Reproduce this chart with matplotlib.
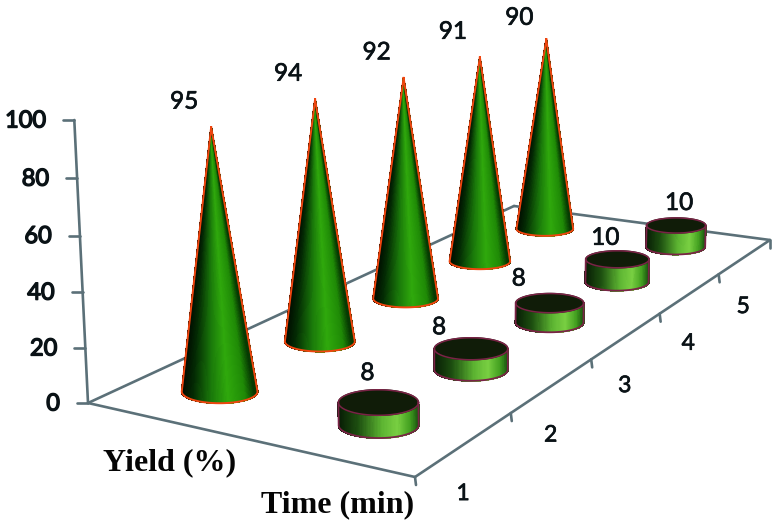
import numpy as np
import matplotlib
matplotlib.use("Agg")
import matplotlib.pyplot as plt
import matplotlib.patheffects as pe
from matplotlib.collections import PolyCollection
from matplotlib.colors import LinearSegmentedColormap

# Data
times = ["1", "2", "3", "4", "5"]
yields = [95, 94, 92, 91, 90]
durations = [8, 8, 8, 10, 10]
yticks = [0, 20, 40, 60, 80, 100]

# camera, in screen pixels: corners of the floor and the vertical vanishing point
A, B, C, D = (88, 403), (415, 477), (770, 240), (514, 206)
VP = (480, 8500)
AXIS_TOP_Y = 120
ROW_YIELD, ROW_TIME = 0.25, 0.75

# the labels above the marks do not sit at a regular distance in the original
cone_label_dy = [-25, -25, -25, -25, -21]
disc_label_dx = [-11, -32, -31, -12, 3]
disc_label_dy = [-29, -21, -24, -21, -22]


def floor_matrix(pts):
    rows, rhs = [], []
    for (u, v), (x, y) in zip([(0, 0), (0, 1), (1, 1), (1, 0)], pts):
        rows.append([u, v, 1, 0, 0, 0, -u * x, -v * x])
        rows.append([0, 0, 0, u, v, 1, -u * y, -v * y])
        rhs += [x, y]
    h = np.linalg.solve(np.array(rows, float), np.array(rhs, float))
    return np.append(h, 1).reshape(3, 3)


H = floor_matrix([A, B, C, D])
K = (A[1] - AXIS_TOP_Y) / 100 / (AXIS_TOP_Y - VP[1])
Q = K * np.array([VP[0], VP[1], 1.0])


def proj(s, t, z=0):
    p = H @ np.array([s, t, 1.0]) + z * Q
    return p[0] / p[2], p[1] / p[2]


def depth(s, t):
    return (H @ np.array([s, t, 1.0]))[2]


def radii(s, t):
    x, y = proj(s, t)
    rx = 38.5 / depth(s, t)
    ratio = 0.25 + 0.06 * (y - 230) / 170
    return rx, rx * ratio


cone_cmap = LinearSegmentedColormap.from_list("cone", [
    (0, "#000a00"), (0.15, "#032a03"), (0.4, "#1a7a0a"),
    (0.62, "#2fa80c"), (0.85, "#1f8a06"), (0.97, "#063a02"), (1, "#063a02")])
side_cmap = LinearSegmentedColormap.from_list("side", [
    (0, "#061a04"), (0.25, "#1d4f10"), (0.55, "#5db532"),
    (0.74, "#79cf42"), (0.9, "#43a020"), (1, "#1c5a10")])

fig = plt.figure(figsize=(7.74, 5.24), dpi=100)
ax = fig.add_axes([0, 0, 1, 1])
ax.set_xlim(0, 774)
ax.set_ylim(524, 0)
ax.axis("off")

AXC = "#5b7078"
TXT = "#0a1216"
LW = 1.9
thick = [pe.withStroke(linewidth=0.5, foreground=TXT)]
thicker = [pe.withStroke(linewidth=1.0, foreground=TXT)]


def line(p, q, z=6):
    ax.plot([p[0], q[0]], [p[1], q[1]], color=AXC, lw=LW, solid_capstyle="round", zorder=z)


# walls and floor
line(D, A, 1)
line(D, C, 1)
line(A, B)
line(B, C)
line(A, proj(0, 0, 100))

for v in yticks:
    x, y = proj(0, 0, v)
    line((x, y), (x - 11, y))
    ax.text(x - 28, y + 1, str(v), ha="right", va="center", fontsize=17,
            family="Lato", color=TXT, path_effects=thicker)

for i, lab in enumerate(times):
    x, y = proj(i / 5, 1)
    line((x, y), (x + 1, y + 8))
    x, y = proj((i + 0.5) / 5, 1)
    ax.text(x - 2, y + 50, lab, ha="center", va="center", fontsize=16.5,
            family="Lato", color=TXT, path_effects=thick)
line(C, (C[0], C[1] + 8))

ax.text(170, 463, "Yield (%)", ha="center", va="center", fontsize=23,
        fontweight="bold", family="Liberation Serif", color="#050505")
ax.text(338, 505, "Time (min)", ha="center", va="center", fontsize=23,
        fontweight="bold", family="Liberation Serif", color="#050505")

theta = np.linspace(np.pi, 2 * np.pi, 90)


def draw_cone(s, t, v, z):
    cx, cy = proj(s, t)
    ax_, ay_ = proj(s, t, v)
    rx, ry = radii(s, t)
    xs = cx + rx * np.cos(theta)
    ys = cy - ry * np.sin(theta)
    polys, cols = [], []
    for j in range(len(theta) - 1):
        polys.append([(ax_, ay_), (xs[j], ys[j]), (xs[j + 1], ys[j + 1])])
        cols.append(cone_cmap((xs[j] - cx + rx) / (2 * rx)))
    ax.add_collection(PolyCollection(polys, facecolors=cols, edgecolors=cols, linewidths=0.8,
                                     antialiaseds=False, zorder=z))
    ax.plot(np.r_[ax_, xs, ax_], np.r_[ay_, ys, ay_], color="#f0450f", lw=1.4,
            solid_joinstyle="round", zorder=z + 0.1)


def draw_disc(s, t, v, z):
    cx, cy = proj(s, t)
    tx, ty = proj(s, t, v)
    rx, ry = radii(s, t)
    top = np.linspace(0, 2 * np.pi, 120)
    xs = cx + rx * np.cos(theta)
    ys = cy - ry * np.sin(theta)
    xt = tx + rx * np.cos(theta)
    yt = ty - ry * np.sin(theta)
    polys, cols = [], []
    for j in range(len(theta) - 1):
        polys.append([(xt[j], yt[j]), (xs[j], ys[j]), (xs[j + 1], ys[j + 1]), (xt[j + 1], yt[j + 1])])
        cols.append(side_cmap((xs[j] - cx + rx) / (2 * rx)))
    ax.add_collection(PolyCollection(polys, facecolors=cols, edgecolors=cols, linewidths=0.8,
                                     antialiaseds=False, zorder=z))
    ax.fill(tx + rx * np.cos(top), ty + ry * np.sin(top), color="#101c08", zorder=z + 0.1)
    ax.plot(tx + rx * np.cos(top), ty + ry * np.sin(top), color="#7a2346", lw=1.1, zorder=z + 0.2)
    ax.plot(np.r_[tx - rx, xs, tx + rx], np.r_[ty, ys, ty], color="#7a2346", lw=1.3, zorder=z + 0.2)


# far categories first so nearer marks cover them
for i in range(len(times) - 1, -1, -1):
    s = (i + 0.5) / 5
    z = 10 + (5 - i) * 2
    draw_cone(s, ROW_YIELD, yields[i], z)
    draw_disc(s, ROW_TIME, durations[i], z + 1)
    x, y = proj(s, ROW_YIELD, yields[i])
    ax.text(x - 27, y + cone_label_dy[i], str(yields[i]), ha="center", va="center", fontsize=17.5,
            family="Lato", color=TXT, zorder=30, path_effects=thick)
    x, y = proj(s, ROW_TIME, durations[i])
    ax.text(x + disc_label_dx[i], y + disc_label_dy[i], str(durations[i]), ha="center", va="center",
            fontsize=17.5, family="Lato", color=TXT, zorder=30, path_effects=thick)

fig.savefig("out.png", dpi=100)
